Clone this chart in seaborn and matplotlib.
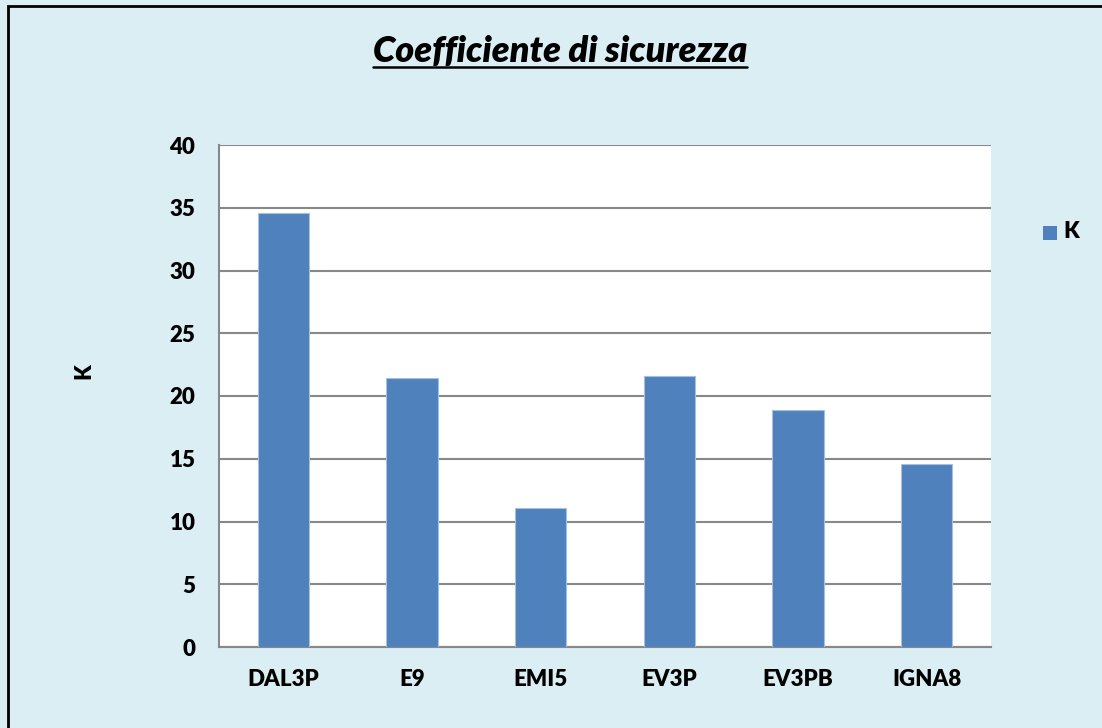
import matplotlib
matplotlib.use("Agg")
import matplotlib.pyplot as plt
import seaborn as sns
import pandas as pd
from matplotlib.patches import Rectangle
from matplotlib.lines import Line2D

categories = ["DAL3P", "E9", "EMI5", "EV3P", "EV3PB", "IGNA8"]
k_values = [34.6, 21.4, 11.05, 21.6, 18.85, 14.55]
y_ticks = [0, 5, 10, 15, 20, 25, 30, 35, 40]
title_text = "Coefficiente di sicurezza"
series_name = "K"

sns.set_style("white")
plt.rcParams['font.family'] = ['Lato', 'DejaVu Sans']
plt.rcParams['text.color'] = 'black'
plt.rcParams['axes.labelcolor'] = 'black'
plt.rcParams['xtick.color'] = 'black'
plt.rcParams['ytick.color'] = 'black'

bg = "#DBEEF4"
bar_color = "#4F81BD"
grid_color = "#888888"
W, H = 1102, 728

fig = plt.figure(figsize=(W/100, H/100), dpi=100)
fig.patch.set_facecolor(bg)

ax = fig.add_axes([219/W, 1-647/H, 772/W, (647-145)/H])
df = pd.DataFrame({"cat": categories, series_name: k_values})
sns.barplot(data=df, x="cat", y=series_name, color=bar_color, width=0.4,
            saturation=1, ax=ax, edgecolor="#A7C0DE", linewidth=0.8, zorder=3)

ax.set_ylim(0, 40)
ax.set_xlim(-0.5, len(categories) - 0.5)
ax.set_yticks(y_ticks)
ax.set_yticklabels([str(t) for t in y_ticks], fontsize=16, fontweight="heavy")
ax.set_xticks(range(len(categories)))
ax.set_xticklabels(categories, fontsize=16, fontweight="heavy")
ax.set_xlabel("")
ax.set_ylabel(series_name, fontsize=16, fontweight="heavy", labelpad=0)
ax.yaxis.set_label_coords((94 - 219) / 772, 0.55)

ax.set_facecolor("white")
ax.grid(axis="y", color=grid_color, linewidth=1.5, zorder=0)
ax.set_axisbelow(True)
for s in ["top", "right"]:
    ax.spines[s].set_visible(False)
for s in ["left", "bottom"]:
    ax.spines[s].set_color(grid_color)
    ax.spines[s].set_linewidth(1.5)

ax.set_xticks([i - 0.5 for i in range(len(categories) + 1)], minor=True)
ax.tick_params(axis="x", which="major", length=0, pad=16)
ax.tick_params(axis="x", which="minor", length=7, width=1.5, color=grid_color, direction="out")
ax.tick_params(axis="y", length=8, width=1.5, color=grid_color, direction="out", pad=9)

# Title
t = fig.text(560/W, 1-51/H, title_text, fontsize=26, fontweight="heavy",
             fontstyle="italic", ha="center", va="center")
fig.canvas.draw()
bb = t.get_window_extent()
uy = 1 - 67/H
fig.add_artist(Line2D([bb.x0/W, bb.x1/W], [uy, uy], color="black",
                      linewidth=1.8, transform=fig.transFigure))

# Legend
fig.patches.append(Rectangle((1043/W, 1-240/H), 14/W, 14/H,
                             transform=fig.transFigure, facecolor=bar_color,
                             edgecolor="none"))
fig.text(1063/W, 1-232/H, series_name, fontsize=16, fontweight="heavy",
         ha="left", va="center")

# Outer border (right and bottom fall outside the image)
fig.patches.append(Rectangle((8/W, -10/H), 1110/W, (722 + 10)/H,
                             transform=fig.transFigure, fill=False,
                             edgecolor="black", linewidth=2))

fig.savefig("out.png", dpi=100, facecolor=bg)
